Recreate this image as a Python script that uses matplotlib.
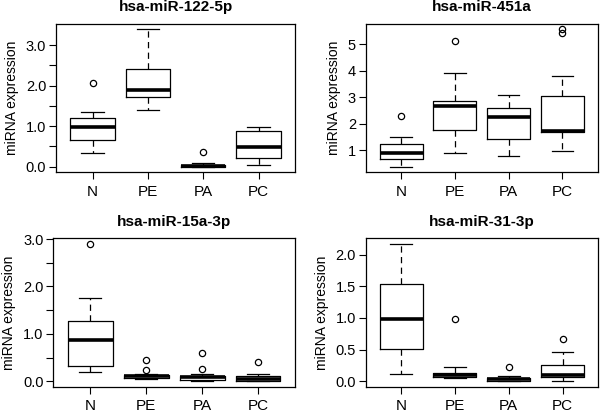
import matplotlib
matplotlib.use("Agg")
from matplotlib import pyplot as plt

plt.rcParams['font.family'] = ['Liberation Sans', 'DejaVu Sans']

groups = ['N', 'PE', 'PA', 'PC']
titles = ['hsa-miR-122-5p', 'hsa-miR-451a', 'hsa-miR-15a-3p', 'hsa-miR-31-3p']

# box stats per panel, one value per group: N, PE, PA, PC
whislo_122 = [0.33, 1.41, 0.00, 0.05]
q1_122 = [0.66, 1.71, 0.00, 0.22]
med_122 = [0.98, 1.89, 0.02, 0.48]
q3_122 = [1.21, 2.42, 0.04, 0.89]
whishi_122 = [1.36, 3.39, 0.09, 0.97]
fliers_122 = [[2.07], [], [0.36], []]

whislo_451 = [0.38, 0.90, 0.77, 0.96]
q1_451 = [0.68, 1.74, 1.43, 1.68]
med_451 = [0.90, 2.65, 2.25, 1.72]
q3_451 = [1.24, 2.86, 2.59, 3.05]
whishi_451 = [1.48, 3.89, 3.09, 3.80]
fliers_451 = [[2.28], [5.10], [], [5.42, 5.55]]

whislo_15a = [0.19, 0.04, 0.00, 0.00]
q1_15a = [0.32, 0.06, 0.02, 0.01]
med_15a = [0.88, 0.10, 0.08, 0.05]
q3_15a = [1.27, 0.13, 0.12, 0.11]
whishi_15a = [1.75, 0.16, 0.16, 0.16]
fliers_15a = [[2.90], [0.23, 0.45], [0.25, 0.60], [0.40]]

whislo_31 = [0.12, 0.05, 0.00, 0.00]
q1_31 = [0.51, 0.06, 0.01, 0.065]
med_31 = [0.99, 0.09, 0.03, 0.095]
q3_31 = [1.53, 0.13, 0.05, 0.25]
whishi_31 = [2.17, 0.23, 0.08, 0.455]
fliers_31 = [[], [0.99], [0.22], [0.66]]

panels = [
    (whislo_122, q1_122, med_122, q3_122, whishi_122, fliers_122),
    (whislo_451, q1_451, med_451, q3_451, whishi_451, fliers_451),
    (whislo_15a, q1_15a, med_15a, q3_15a, whishi_15a, fliers_15a),
    (whislo_31, q1_31, med_31, q3_31, whishi_31, fliers_31),
]

ytick_sets = [
    ([0, 1, 2, 3], ['0.0', '1.0', '2.0', '3.0'], [0.5, 1.5, 2.5]),
    ([1, 2, 3, 4, 5], ['1', '2', '3', '4', '5'], []),
    ([0, 1, 2, 3], ['0.0', '1.0', '2.0', '3.0'], [0.5, 1.5, 2.5]),
    ([0, 0.5, 1, 1.5, 2], ['0.0', '0.5', '1.0', '1.5', '2.0'], []),
]

positions = [
    [0.0933, 0.5835, 0.3984, 0.3584],
    [0.6095, 0.5835, 0.3867, 0.3584],
    [0.0889, 0.0637, 0.4028, 0.3593],
    [0.6095, 0.0637, 0.3872, 0.3593],
]

fig = plt.figure(figsize=(6, 4.13), dpi=100)

for i in range(4):
    ax = fig.add_axes(positions[i])
    lo, q1, med, q3, hi, fl = panels[i]
    stats = []
    for j in range(4):
        stats.append(dict(whislo=lo[j], q1=q1[j], med=med[j], q3=q3[j],
                          whishi=hi[j], fliers=fl[j], label=groups[j]))
    ax.bxp(stats, positions=[1, 2, 3, 4], widths=0.8,
           boxprops=dict(color='black', linewidth=0.9),
           medianprops=dict(color='black', linewidth=2.6, solid_capstyle='butt'),
           whiskerprops=dict(color='black', linewidth=0.9, linestyle=(0, (5, 3.5))),
           capprops=dict(color='black', linewidth=0.9),
           flierprops=dict(marker='o', markerfacecolor='none', markeredgecolor='black',
                           markersize=4.5, markeredgewidth=0.9),
           capwidths=0.4)

    # R style 4% padding on each side
    allv = lo + hi + [v for f in fl for v in f]
    vmin, vmax = min(allv), max(allv)
    pad = 0.04 * (vmax - vmin)
    ax.set_ylim(vmin - pad, vmax + pad)
    ax.set_xlim(0.34, 4.66)

    ticks, labels, extra = ytick_sets[i]
    ax.set_yticks(ticks)
    ax.set_yticklabels(labels)
    ax.set_yticks(extra, minor=True)
    ax.tick_params(axis='y', which='both', length=5, width=0.8, labelsize=10.5, pad=2)
    ax.tick_params(axis='x', length=5, width=0.8, labelsize=11, pad=4)
    ax.set_ylabel('miRNA expression', fontsize=10, labelpad=5)
    ax.set_title(titles[i], fontsize=11, fontweight='bold', pad=9)
    for s in ax.spines.values():
        s.set_linewidth(0.9)

fig.savefig('out.png', dpi=100)
